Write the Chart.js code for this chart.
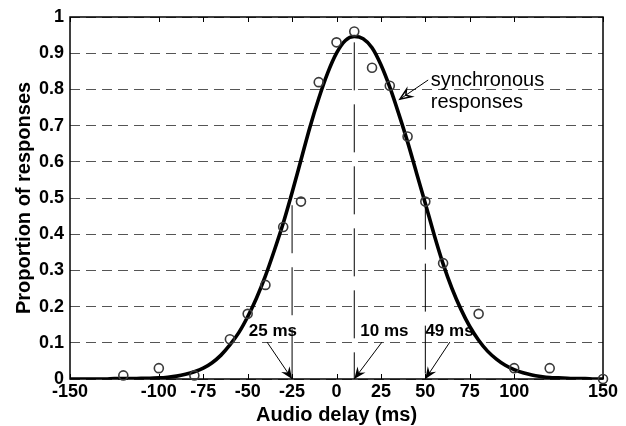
<!DOCTYPE html>
<html>
<head>
<meta charset="utf-8">
<script src="https://cdn.jsdelivr.net/npm/chart.js@4.4.1/dist/chart.umd.min.js"></script>
<style>
  body { margin: 0; background: #fff; }
  #wrap { width: 626px; height: 426px; }
</style>
</head>
<body>
<div id="wrap"><canvas id="chart" width="626" height="426"></canvas></div>
<script>
// measured responses (open circles)
const delays = [-120, -100, -80, -60, -50, -40, -30, -20, -10, 0, 10, 20, 30, 40, 50, 60, 80, 100, 120, 150];
const proportions = [0.01, 0.03, 0.01, 0.11, 0.18, 0.26, 0.42, 0.49, 0.82, 0.93, 0.96, 0.86, 0.81, 0.67, 0.49, 0.32, 0.18, 0.03, 0.03, 0];

// fitted curve, every 5 ms
const curveDelays = [-150, -145, -140, -135, -130, -125, -120, -115, -110, -105,
  -100, -95, -90, -85, -80, -75, -70, -65, -60, -55,
  -50, -45, -40, -35, -30, -25, -20, -15, -10, -5,
  0, 5, 10, 15, 20, 25, 30, 35, 40, 45,
  50, 55, 60, 65, 70, 75, 80, 85, 90, 95,
  100, 105, 110, 115, 120, 125, 130, 135, 140, 145, 150];
const curveValues = [0, 0, 0, 0, 0, 0.001, 0.001, 0.001, 0.002, 0.002,
  0.003, 0.005, 0.008, 0.013, 0.02, 0.03, 0.045, 0.066, 0.094, 0.128,
  0.172, 0.224, 0.285, 0.355, 0.43, 0.515, 0.605, 0.695, 0.775, 0.845,
  0.9, 0.935, 0.946, 0.94, 0.915, 0.868, 0.806, 0.733, 0.655, 0.57,
  0.485, 0.398, 0.318, 0.25, 0.193, 0.145, 0.107, 0.077, 0.055, 0.038,
  0.026, 0.017, 0.011, 0.007, 0.004, 0.003, 0.002, 0.001, 0.001, 0, 0];

// vertical markers and their labels
const markerDelays = [-25, 10, 50];
const markerTops = [0.48, 0.93, 0.49];
const markerLabels = ['25 ms', '10 ms', '49 ms'];

const xTicks = [-150, -100, -75, -50, -25, 0, 25, 50, 75, 100, 150];

const FONT = '"Liberation Sans", Arial, Helvetica, sans-serif';
Chart.defaults.font.family = FONT;
Chart.defaults.color = '#000';

// where the notes sit (data units)
const notes = [
  { text: markerLabels[0], x: -35.8, y: 0.133, from: [-39.1, 0.102], to: [markerDelays[0], 0] },
  { text: markerLabels[1], x: 27.0, y: 0.133, from: [25.6, 0.102], to: [markerDelays[1], 0] },
  { text: markerLabels[2], x: 63.6, y: 0.133, from: [63.8, 0.102], to: [markerDelays[2], 0] }
];

function arrowHead(ctx, x0, y0, x1, y1, len, half, filled) {
  const a = Math.atan2(y1 - y0, x1 - x0);
  const cos = Math.cos(a), sin = Math.sin(a);
  const bx = x1 - len * cos, by = y1 - len * sin;
  const lx = bx - half * sin, ly = by + half * cos;
  const rx = bx + half * sin, ry = by - half * cos;
  const ix = x1 - len * 0.65 * cos, iy = y1 - len * 0.65 * sin;
  ctx.beginPath();
  ctx.moveTo(x1, y1);
  ctx.lineTo(lx, ly);
  ctx.lineTo(ix, iy);
  ctx.lineTo(rx, ry);
  ctx.closePath();
  if (filled) ctx.fill(); else ctx.stroke();
}

//frame and inward ticks
const framePlugin = {
  id: 'frame',
  beforeDatasetsDraw(chart) {
    const { ctx, chartArea: a, scales: { x } } = chart;
    ctx.save();
    ctx.strokeStyle = '#000';
    ctx.lineWidth = 1;
    x.ticks.forEach(t => {
      const px = Math.round(x.getPixelForValue(t.value)) + 0.5;
      ctx.beginPath();
      ctx.moveTo(px, a.top); ctx.lineTo(px, a.top + 5);
      ctx.moveTo(px, a.bottom); ctx.lineTo(px, a.bottom - 5);
      ctx.stroke();
    });
    ctx.lineWidth = 1.5;
    ctx.strokeRect(a.left, a.top, a.right - a.left, a.bottom - a.top);
    ctx.restore();
  }
};

//labels and arrows
const notesPlugin = {
  id: 'notes',
  afterDatasetsDraw(chart) {
    const { ctx, scales: { x, y } } = chart;
    ctx.save();
    ctx.fillStyle = '#000';
    ctx.strokeStyle = '#000';
    ctx.lineWidth = 1;
    ctx.font = 'bold 17px ' + FONT;
    ctx.textAlign = 'center';
    ctx.textBaseline = 'middle';
    notes.forEach(n => {
      ctx.fillText(n.text, x.getPixelForValue(n.x), y.getPixelForValue(n.y));
      const x0 = x.getPixelForValue(n.from[0]), y0 = y.getPixelForValue(n.from[1]);
      const x1 = x.getPixelForValue(n.to[0]), y1 = y.getPixelForValue(n.to[1]);
      ctx.beginPath();
      ctx.moveTo(x0, y0); ctx.lineTo(x1, y1);
      ctx.stroke();
      arrowHead(ctx, x0, y0, x1, y1, 12, 5, true);
    });

    // curve label
    ctx.font = '20px ' + FONT;
    ctx.textAlign = 'left';
    ctx.fillText('synchronous', x.getPixelForValue(53.1), y.getPixelForValue(0.826));
    ctx.fillText('responses', x.getPixelForValue(53.1), y.getPixelForValue(0.765));
    const sx0 = x.getPixelForValue(51.6), sy0 = y.getPixelForValue(0.826);
    const sx1 = x.getPixelForValue(35.7), sy1 = y.getPixelForValue(0.773);
    ctx.beginPath();
    ctx.moveTo(sx0, sy0); ctx.lineTo(sx1, sy1);
    ctx.stroke();
    ctx.lineWidth = 1.5;
    arrowHead(ctx, sx0, sy0, sx1, sy1, 11, 4.5, false);
    ctx.restore();
  }
};

const markerSets = markerDelays.map((d, i) => ({
  data: [{ x: d, y: markerTops[i] }, { x: d, y: 0 }],
  showLine: true,
  borderColor: '#000',
  borderWidth: 1,
  borderDash: [48, 14],
  pointRadius: 0
}));

new Chart(document.getElementById('chart'), {
  type: 'scatter',
  data: {
    datasets: [
      {
        data: delays.map((d, i) => ({ x: d, y: proportions[i] })),
        pointStyle: 'circle',
        pointRadius: 4.5,
        pointBorderWidth: 1.6,
        pointBorderColor: '#3a3a3a',
        pointBackgroundColor: 'rgba(0,0,0,0)',
        clip: false
      },
      {
        data: curveDelays.map((d, i) => ({ x: d, y: curveValues[i] })),
        showLine: true,
        borderColor: '#000',
        borderWidth: 3.6,
        pointRadius: 0,
        cubicInterpolationMode: 'monotone'
      },
      ...markerSets
    ]
  },
  options: {
    responsive: false,
    animation: false,
    layout: { padding: { top: 17, right: 23, left: 0, bottom: 0 } },
    plugins: { legend: { display: false }, tooltip: { enabled: false } },
    scales: {
      x: {
        type: 'linear',
        min: -150,
        max: 150,
        afterBuildTicks: s => { s.ticks = xTicks.map(v => ({ value: v })); },
        afterFit: s => { s.height = 47; },
        grid: { display: false, drawTicks: false },
        border: { display: false },
        ticks: {
          font: { size: 18, weight: 'bold' },
          padding: 2,
          maxRotation: 0,
          autoSkip: false
        },
        title: {
          display: true,
          text: 'Audio delay (ms)',
          font: { size: 20, weight: 'bold', lineHeight: 1 },
          padding: { top: 0, bottom: 1 }
        }
      },
      y: {
        min: 0,
        max: 1,
        afterFit: s => { s.width = 70; },
        grid: { color: '#555', lineWidth: 1, drawTicks: false },
        border: { display: false, dash: [10, 6] },
        ticks: {
          stepSize: 0.1,
          font: { size: 18, weight: 'bold' },
          padding: 6,
          callback: v => String(+v.toFixed(1))
        },
        title: {
          display: true,
          text: 'Proportion of responses',
          font: { size: 20, weight: 'bold', lineHeight: 1.2 },
          padding: { top: 12, bottom: 0 }
        }
      }
    }
  },
  plugins: [framePlugin, notesPlugin]
});
</script>
</body>
</html>
